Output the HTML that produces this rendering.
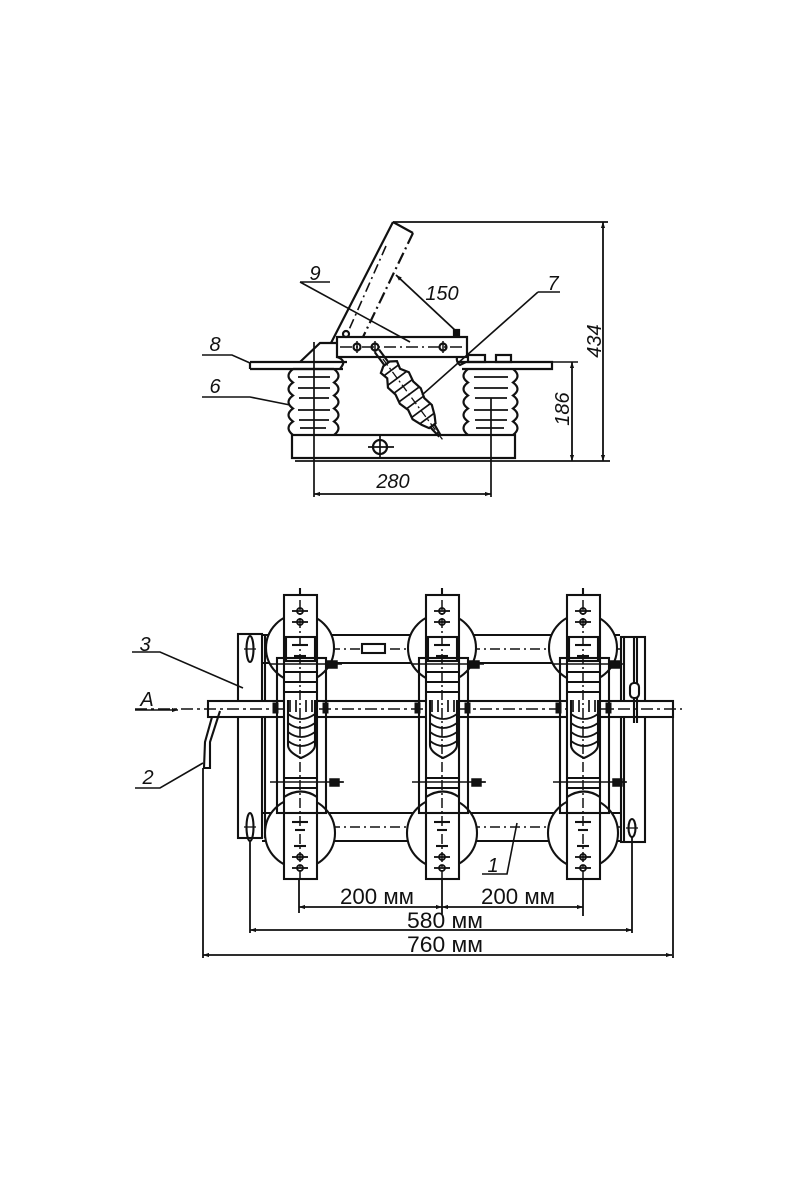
<!DOCTYPE html>
<html><head><meta charset="utf-8"><style>
html,body{margin:0;padding:0;background:#fff;}
svg{display:block;}
text{font-family:"Liberation Sans",sans-serif;fill:#111;}
.it{font-style:italic;}
</style></head><body>
<svg width="800" height="1200" viewBox="0 0 800 1200" xmlns="http://www.w3.org/2000/svg">
<defs>
<marker id="ar" viewBox="0 0 10 10" refX="10" refY="5" markerWidth="10" markerHeight="6" orient="auto-start-reverse" markerUnits="userSpaceOnUse"><path d="M0 1.5 L10 5 L0 8.5 z" fill="#111"/></marker>
<g id="hole"><circle cx="0" cy="0" r="3" fill="none" stroke="#111" stroke-width="1.8"/><line x1="-8" y1="0" x2="8" y2="0" stroke="#111" stroke-width="1.8"/></g>
<g id="pole" stroke="#111" stroke-width="2.1" fill="none">
 <circle cx="0" cy="648" r="34" fill="#fff"/>
 <circle cx="0" cy="833" r="35" fill="#fff"/>
 <rect x="-16" y="595" width="33" height="284" fill="#fff"/>
 <line x1="0" y1="588" x2="0" y2="595"/>
 <rect x="-14" y="637" width="29" height="24"/>
 <rect x="-23" y="658" width="49" height="155"/>
 <line x1="-30" y1="664" x2="34" y2="664" stroke-width="1.5"/>
 <line x1="-16" y1="672" x2="17" y2="672"/>
 <line x1="-16" y1="682" x2="17" y2="682"/>
 <line x1="-16" y1="692" x2="17" y2="692"/>
 <path d="M27 661 h10 v7 h-10 z M37 664 h5" fill="#111" stroke-width="1.5"/>
 <rect x="-27" y="703" width="5" height="10" fill="#111" stroke-width="1"/>
 <rect x="23" y="703" width="5" height="10" fill="#111" stroke-width="1"/>
 <path d="M-12 700 V745 Q-12 752 1 758 Q15 752 15 745 V700"/>
 <path d="M-10 700 V712 M-4 700 V712 M6 700 V712 M12 700 V712" stroke-width="1.7"/>
 <path d="M-12 714 Q1 724 15 714 M-12 723 Q1 733 15 723 M-12 732 Q1 742 15 732 M-12 741 Q1 751 15 741" stroke-width="1.8"/>
 <line x1="-30" y1="782" x2="43" y2="782" stroke-width="1.5"/>
 <path d="M30 779 h9 v7 h-9 z M39 782 h5" fill="#111" stroke-width="1.5"/>
 <line x1="-16" y1="778" x2="17" y2="778"/>
 <line x1="-16" y1="788" x2="17" y2="788"/>
 <path d="M-16 797 Q1 786 17 797"/>
 <line x1="0" y1="600" x2="0" y2="880" stroke-width="1.5" stroke-dasharray="10 3 2 3"/>
 <line x1="-8" y1="645" x2="8" y2="645"/>
 <line x1="-6" y1="656" x2="6" y2="656"/>
 <line x1="-8" y1="822" x2="8" y2="822"/>
 <line x1="-5" y1="830" x2="5" y2="830"/>
 <line x1="-6" y1="846" x2="6" y2="846"/>
 <use href="#hole" x="0" y="611"/>
 <use href="#hole" x="0" y="622"/>
 <use href="#hole" x="0" y="857"/>
 <use href="#hole" x="0" y="868"/>
</g>
</defs>

<!-- ================= TOP DRAWING ================= -->
<g stroke="#111" fill="none" stroke-width="2.2">
 <!-- blade -->
 <line x1="393" y1="222" x2="331" y2="343"/>
 <line x1="393" y1="222" x2="413" y2="233"/>
 <line x1="413" y1="233" x2="363" y2="337" stroke-dasharray="12 4 2 4"/>
 <line x1="386" y1="246" x2="348" y2="332" stroke-width="1.6" stroke-dasharray="10 4 2 4"/>
 <!-- arm -->
 <rect x="337" y="337" width="130" height="20" fill="#fff"/>
 <line x1="340" y1="347" x2="464" y2="347" stroke-width="1.5" stroke-dasharray="12 4 2 4"/>
 <circle cx="357" cy="347" r="3.5"/><circle cx="375" cy="347" r="3.5"/><circle cx="443" cy="347" r="3.5"/>
 <line x1="357" y1="341" x2="357" y2="353" stroke-width="1.5"/>
 <line x1="375" y1="341" x2="375" y2="353" stroke-width="1.5"/>
 <line x1="443" y1="341" x2="443" y2="353" stroke-width="1.5"/>
 <circle cx="346" cy="334" r="3"/>
 <rect x="454" y="330" width="5" height="6" fill="#111"/>
 <!-- hinge -->
 <path d="M300 362 L320 343 L337 343"/>
 <path d="M337 357 Q346 360 342 366 L340 369"/>
 <path d="M457 357 Q456 362 460 365 L466 362"/>
 <!-- plates 8 -->
 <path d="M250 362 H347 M250 369 H343 M250 362 V369" />
 <path d="M457 362 H552 V369 H462"/>
 <line x1="552" y1="362" x2="578" y2="362" stroke-width="1.5"/>
 <!-- bolts -->
 <rect x="468" y="355" width="17" height="7"/>
 <rect x="496" y="355" width="15" height="7"/>
 <!-- left insulator -->
 <path d="M293 369 Q284 376 293 382.5 Q284 389 293 395.5 Q284 402 293 408.5 Q284 415 293 421.5 Q284 428 293 435"/>
 <path d="M334 369 Q343 376 334 382.5 Q343 389 334 395.5 Q343 402 334 408.5 Q343 415 334 421.5 Q343 428 334 435"/>
 <line x1="293" y1="369" x2="334" y2="369"/>
 <g stroke-width="1.7">
  <line x1="298" y1="377" x2="330" y2="377"/><line x1="298" y1="388" x2="330" y2="388"/>
  <line x1="299" y1="398" x2="329" y2="398"/><line x1="298" y1="410" x2="330" y2="410"/>
  <line x1="299" y1="420" x2="329" y2="420"/><line x1="300" y1="428" x2="326" y2="428"/>
 </g>
 <!-- right insulator -->
 <path d="M468 369 Q459 376 468 382.5 Q459 389 468 395.5 Q459 402 468 408.5 Q459 415 468 421.5 Q459 428 468 435"/>
 <path d="M513 369 Q522 376 513 382.5 Q522 389 513 395.5 Q522 402 513 408.5 Q522 415 513 421.5 Q522 428 513 435"/>
 <g stroke-width="1.7">
  <line x1="474" y1="377" x2="508" y2="377"/><line x1="474" y1="388" x2="508" y2="388"/>
  <line x1="475" y1="398" x2="507" y2="398"/><line x1="474" y1="410" x2="508" y2="410"/>
  <line x1="475" y1="420" x2="507" y2="420"/><line x1="476" y1="428" x2="504" y2="428"/>
 </g>
 <!-- base -->
 <rect x="292" y="435" width="223" height="23"/>
 <line x1="295" y1="461" x2="610" y2="461" stroke-width="1.7"/>
 <circle cx="380" cy="447" r="7"/>
 <line x1="368" y1="447" x2="394" y2="447" stroke-width="1.7"/>
 <line x1="380" y1="436" x2="380" y2="458" stroke-width="1.7"/>
 <!-- diagonal insulator 7 -->
 <g transform="translate(377 351) rotate(53.5)">
  <line x1="0" y1="-2.5" x2="16" y2="-2.5"/><line x1="0" y1="2.5" x2="16" y2="2.5"/>
  <path d="M16 -4 L20 -10 L28 -8 L36 -13 L46 -11 L56 -13 L66 -10 L76 -12 L86 -8 L93 -4 L93 4 L86 8 L76 12 L66 10 L56 13 L46 11 L36 13 L28 8 L20 10 L16 4 Z" fill="#fff"/>
  <g stroke-width="1.7">
   <line x1="24" y1="-9" x2="24" y2="9"/><line x1="34" y1="-12" x2="34" y2="12"/>
   <line x1="44" y1="-11" x2="44" y2="11"/><line x1="54" y1="-12" x2="54" y2="12"/>
   <line x1="64" y1="-10" x2="64" y2="10"/><line x1="74" y1="-11" x2="74" y2="11"/>
   <line x1="84" y1="-8" x2="84" y2="8"/>
  </g>
  <line x1="93" y1="-2.5" x2="106" y2="-1"/><line x1="93" y1="2.5" x2="106" y2="1"/>
  <line x1="10" y1="0" x2="110" y2="0" stroke-width="1.3" stroke-dasharray="8 3 2 3"/>
 </g>
 <!-- center lines -->
 <line x1="314" y1="342" x2="314" y2="497" stroke-width="1.7"/>
 <line x1="491" y1="398" x2="491" y2="497" stroke-width="1.7"/>
 <!-- dims -->
 <line x1="393" y1="222" x2="608" y2="222" stroke-width="1.8"/>
 <line x1="603" y1="222" x2="603" y2="461" stroke-width="1.8" marker-start="url(#ar)" marker-end="url(#ar)"/>
 <line x1="572" y1="362" x2="572" y2="461" stroke-width="1.8" marker-start="url(#ar)" marker-end="url(#ar)"/>
 <line x1="314" y1="494" x2="491" y2="494" stroke-width="1.8" marker-start="url(#ar)" marker-end="url(#ar)"/>
 <line x1="457" y1="332" x2="396" y2="275" stroke-width="1.8" marker-end="url(#ar)"/>
 <!-- leaders -->
 <g stroke-width="1.6">
  <path d="M300 282 H330 M300 282 L410 342"/>
  <path d="M538 292 H560 M538 292 L422 395"/>
  <path d="M202 355 H232 L250 363"/>
  <path d="M202 397 H250 L290 405"/>
 </g>
</g>
<g class="it" font-size="20">
 <text x="315" y="280" text-anchor="middle">9</text>
 <text x="442" y="300" text-anchor="middle">150</text>
 <text x="553" y="290" text-anchor="middle">7</text>
 <text x="215" y="351" text-anchor="middle">8</text>
 <text x="215" y="393" text-anchor="middle">6</text>
 <text x="393" y="488" text-anchor="middle">280</text>
 <text transform="translate(601 341) rotate(-90)" text-anchor="middle">434</text>
 <text transform="translate(569 409) rotate(-90)" text-anchor="middle">186</text>
</g>

<!-- ================= BOTTOM DRAWING ================= -->
<g stroke="#111" fill="none" stroke-width="2.1">
 <!-- tubes -->
 <path d="M262 635 H620 M262 663 H620"/>
 <path d="M262 813 H620 M262 841 H620"/>
 <line x1="250" y1="649" x2="620" y2="649" stroke-width="1.4" stroke-dasharray="10 4 2 4"/>
 <line x1="250" y1="827" x2="640" y2="827" stroke-width="1.6" stroke-dasharray="10 4 2 4"/>
 <rect x="362" y="644" width="23" height="9" fill="#fff"/>
 <!-- left plate 3 -->
 <rect x="238" y="634" width="24" height="204" fill="#fff"/>
 <line x1="265" y1="634" x2="265" y2="838"/>
 <ellipse cx="250" cy="649" rx="3.5" ry="13"/>
 <ellipse cx="250" cy="827" rx="3.5" ry="14"/>
 <line x1="244" y1="649" x2="256" y2="649" stroke-width="1.3"/>
 <line x1="244" y1="827" x2="256" y2="827" stroke-width="1.3"/>
 <!-- right plate -->
 <rect x="621" y="637" width="24" height="205" fill="#fff"/>
 <line x1="624" y1="637" x2="624" y2="842"/>
 <!-- shaft (in front of plates) -->
 <rect x="208" y="701" width="465" height="16" fill="#fff"/>
 <line x1="135" y1="709" x2="682" y2="709" stroke-width="1.4" stroke-dasharray="12 4 3 4"/>
 <line x1="634" y1="638" x2="634" y2="723"/><line x1="637" y1="638" x2="637" y2="723"/>
 <rect x="630" y="683" width="9" height="15" rx="4" fill="#fff"/>
 <ellipse cx="632" cy="828" rx="3.5" ry="9"/>
 <line x1="626" y1="828" x2="638" y2="828" stroke-width="1.3"/>
 <!-- handle 2 -->
 <path d="M212 717 L205 742 L204 768 L210 768 L210 742 L220 711"/>
</g>
<use href="#pole" x="300" y="0"/>
<use href="#pole" x="442" y="0"/>
<use href="#pole" x="583" y="0"/>

<!-- bottom dims & leaders -->
<g stroke="#111" fill="none" stroke-width="1.8">
 <line x1="203" y1="768" x2="203" y2="958"/>
 <line x1="250" y1="841" x2="250" y2="933"/>
 <line x1="299" y1="880" x2="299" y2="913"/>
 <line x1="442" y1="880" x2="442" y2="914"/>
 <line x1="583" y1="880" x2="583" y2="916"/>
 <line x1="632" y1="837" x2="632" y2="933"/>
 <line x1="673" y1="717" x2="673" y2="958"/>
 <line x1="299" y1="907" x2="442" y2="907" marker-start="url(#ar)" marker-end="url(#ar)"/>
 <line x1="442" y1="907" x2="583" y2="907" marker-start="url(#ar)" marker-end="url(#ar)"/>
 <line x1="250" y1="930" x2="632" y2="930" marker-start="url(#ar)" marker-end="url(#ar)"/>
 <line x1="203" y1="955" x2="672" y2="955" marker-start="url(#ar)" marker-end="url(#ar)"/>
 <path d="M132 652 H160 L243 688" stroke-width="1.6"/>
 <line x1="135" y1="710" x2="178" y2="710" stroke-width="1.6" marker-end="url(#ar)"/>
 <path d="M135 788 H160 L203 763" stroke-width="1.6"/>
 <path d="M482 874 H507 L517 823" stroke-width="1.6"/>
</g>
<g class="it" font-size="20">
 <text x="145" y="651" text-anchor="middle">3</text>
 <text x="147" y="706" text-anchor="middle">A</text>
 <text x="148" y="784" text-anchor="middle">2</text>
 <text x="493" y="872" text-anchor="middle">1</text>
</g>
<g font-size="22">
 <text x="377" y="904" text-anchor="middle" textLength="74" lengthAdjust="spacingAndGlyphs">200 мм</text>
 <text x="518" y="904" text-anchor="middle" textLength="74" lengthAdjust="spacingAndGlyphs">200 мм</text>
 <text x="445" y="928" text-anchor="middle" textLength="76" lengthAdjust="spacingAndGlyphs">580 мм</text>
 <text x="445" y="952" text-anchor="middle" textLength="76" lengthAdjust="spacingAndGlyphs">760 мм</text>
</g>
</svg>
</body></html>
